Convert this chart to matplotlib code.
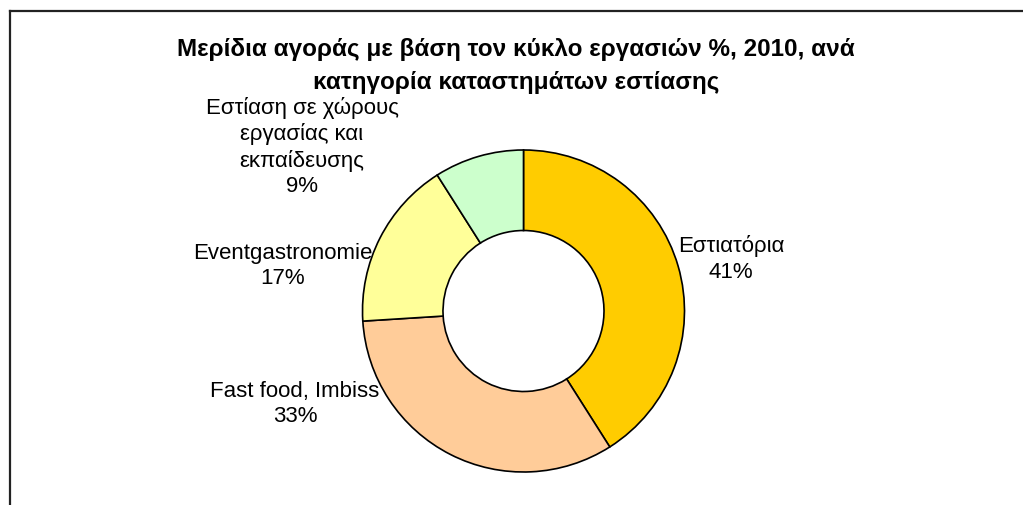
import matplotlib.pyplot as plt
from matplotlib.lines import Line2D

plt.rcParams['font.family'] = ['Liberation Sans', 'DejaVu Sans']

# data
categories = ['Εστιατόρια', 'Fast food, Imbiss', 'Eventgastronomie',
              'Εστίαση σε χώρους\nεργασίας και\nεκπαίδευσης']
shares = [41, 33, 17, 9]
colors = ['#FFCC00', '#FFCC99', '#FFFF99', '#CCFFCC']
title = 'Μερίδια αγοράς με βάση τον κύκλο εργασιών %, 2010, ανά\nκατηγορία καταστημάτων εστίασης'

W, H = 1023, 506
fig = plt.figure(figsize=(W / 100, H / 100), dpi=100)

# donut centre / radius in pixels
cx, cy, r = 523.5, 312, 161
ax = fig.add_axes([(cx - r) / W, (H - cy - r) / H, 2 * r / W, 2 * r / H])
ax.pie(shares, colors=colors, startangle=90, counterclock=False,
       wedgeprops=dict(width=0.5, edgecolor='black', linewidth=1.2))
ax.set_xlim(-1, 1)
ax.set_ylim(-1, 1)
ax.set_aspect('equal')
ax.axis('off')

# label positions (pixel centres, from top-left)
label_pos = [(731, 259), (295, 404), (283, 266), (302, 147)]
for cat, val, (x, y) in zip(categories, shares, label_pos):
    fig.text(x / W, 1 - y / H, f'{cat}\n{val}%', ha='center', va='center',
             fontsize=16, linespacing=1.27)

fig.text(516 / W, 1 - 66 / H, title, ha='center', va='center',
         fontsize=17.5, fontweight='bold', linespacing=1.6)

# chart frame (clipped at right and bottom)
fig.add_artist(Line2D([10 / W, 1], [1 - 12 / H] * 2, transform=fig.transFigure,
                      color='#222222', linewidth=1.6))
fig.add_artist(Line2D([10 / W] * 2, [0, 1 - 12 / H], transform=fig.transFigure,
                      color='#222222', linewidth=1.6))

fig.savefig('out.png', dpi=100)
